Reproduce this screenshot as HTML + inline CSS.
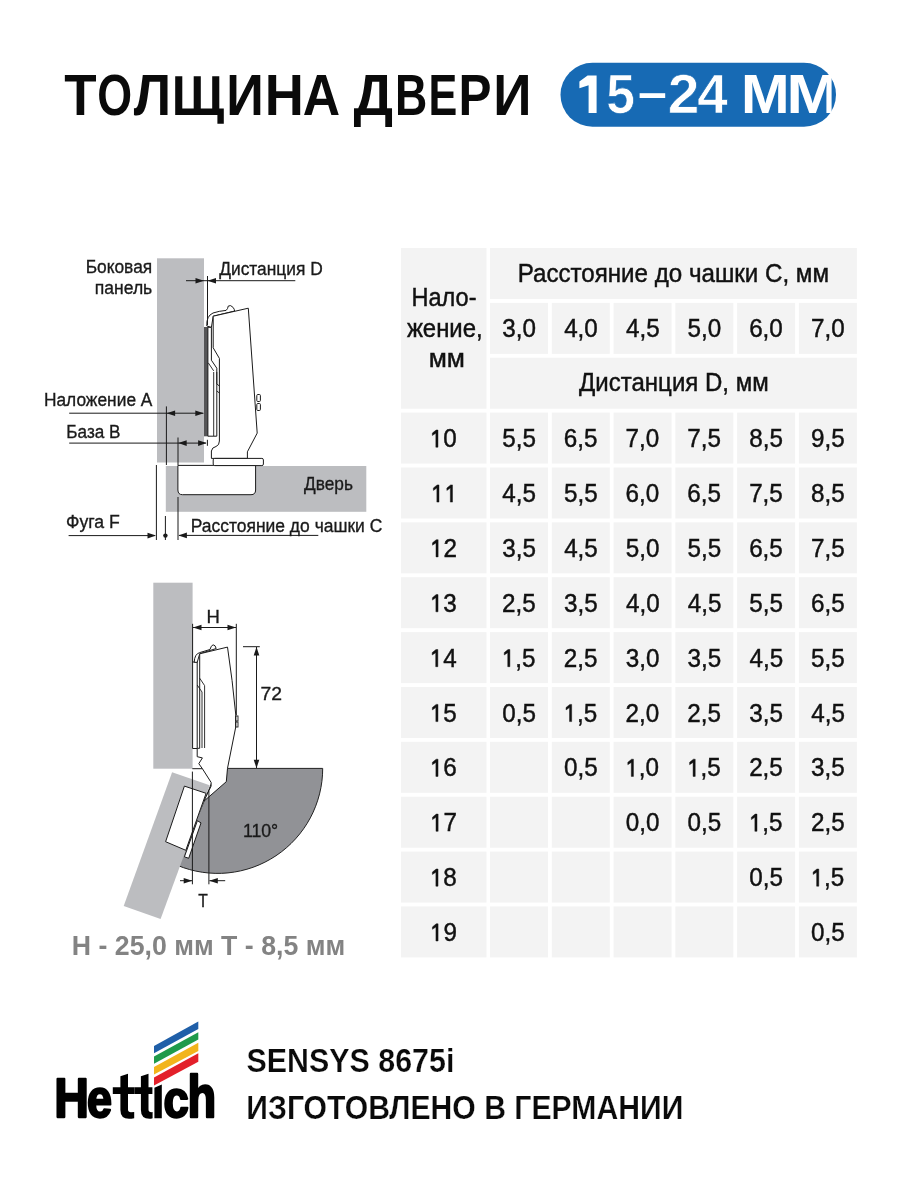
<!DOCTYPE html>
<html><head><meta charset="utf-8">
<style>
html,body{margin:0;padding:0;background:#fff;width:900px;height:1200px;overflow:hidden}
svg{display:block;will-change:transform}
text{font-family:"Liberation Sans",sans-serif}
</style></head><body>
<svg width="900" height="1200" viewBox="0 0 900 1200">
<text transform="translate(64.34 0) scale(0.9369 1)" x="0" y="115" font-size="56.5" font-weight="bold" fill="#0a0a0a">Т</text>
<text transform="translate(97.27 0) scale(0.7939 1)" x="0" y="115" font-size="56.5" font-weight="bold" fill="#0a0a0a">О</text>
<text transform="translate(133.81 0) scale(0.9412 1)" x="0" y="115" font-size="56.5" font-weight="bold" fill="#0a0a0a">Л</text>
<text transform="translate(226.29 0) scale(0.9242 1)" x="0" y="115" font-size="56.5" font-weight="bold" fill="#0a0a0a">И</text>
<text transform="translate(264.66 0) scale(0.9578 1)" x="0" y="115" font-size="56.5" font-weight="bold" fill="#0a0a0a">Н</text>
<text transform="translate(302.72 0) scale(0.9156 1)" x="0" y="115" font-size="56.5" font-weight="bold" fill="#0a0a0a">А</text>
<text transform="translate(353.51 0) scale(0.9819 1)" x="0" y="115" font-size="56.5" font-weight="bold" fill="#0a0a0a">Д</text>
<text transform="translate(395.10 0) scale(0.7907 1)" x="0" y="115" font-size="56.5" font-weight="bold" fill="#0a0a0a">В</text>
<text transform="translate(428.60 0) scale(0.7634 1)" x="0" y="115" font-size="56.5" font-weight="bold" fill="#0a0a0a">Е</text>
<text transform="translate(458.57 0) scale(0.8750 1)" x="0" y="115" font-size="56.5" font-weight="bold" fill="#0a0a0a">Р</text>
<text transform="translate(493.32 0) scale(0.9424 1)" x="0" y="115" font-size="56.5" font-weight="bold" fill="#0a0a0a">И</text>
<path fill="#0a0a0a" d="M175.2,76.2 H182.3 V108.6 H193.7 V76.2 H200.8 V108.6 H212.2 V76.2 H219.3 V108.6 H223.8 V123.7 H217.4 V115 H175.2 Z"/>
<rect x="560.5" y="62.8" width="275.5" height="64" rx="32" fill="#176ab4"/>
<path fill="#fff" d="M588.6,75.6 L596.6,75.6 L596.6,113.1 L588.6,113.1 L588.6,85.2 L579.4,88.2 L579.4,81.6 L587.6,75.6 Z"/>
<rect x="639.6" y="93.2" width="25.6" height="4.8" fill="#fff"/>
<clipPath id="pc"><rect x="560" y="60" width="271.6" height="70"/></clipPath>
<g clip-path="url(#pc)"><text transform="translate(606.36 0) scale(0.9380 1)" x="0" y="113.4" font-size="55" font-weight="bold" fill="#ffffff" stroke="#176ab4" stroke-width="0.7">5</text><text transform="translate(667.69 0) scale(1.0340 1)" x="0" y="113.4" font-size="55" font-weight="bold" fill="#ffffff" stroke="#176ab4" stroke-width="0.7">2</text><text transform="translate(697.16 0) scale(0.9932 1)" x="0" y="113.4" font-size="55" font-weight="bold" fill="#ffffff" stroke="#176ab4" stroke-width="0.7">4</text><text transform="translate(741.05 0) scale(1.0682 1)" x="0" y="113.2" font-size="54.6" font-weight="bold" fill="#ffffff">M</text><text transform="translate(786.56 0) scale(1.1470 1)" x="0" y="113.2" font-size="54.6" font-weight="bold" fill="#ffffff">M</text></g>
<g fill="#f3f3f3">
<rect x="401" y="248" width="85.5" height="160.74"/>
<rect x="490" y="248" width="366.90" height="51"/>
<rect x="490.00" y="302.87" width="58" height="51"/>
<rect x="551.78" y="302.87" width="58" height="51"/>
<rect x="613.56" y="302.87" width="58" height="51"/>
<rect x="675.34" y="302.87" width="58" height="51"/>
<rect x="737.12" y="302.87" width="58" height="51"/>
<rect x="798.90" y="302.87" width="58" height="51"/>
<rect x="490" y="357.74" width="366.90" height="51"/>
<rect x="401" y="412.61" width="85.5" height="51"/>
<rect x="490.00" y="412.61" width="58" height="51"/>
<rect x="551.78" y="412.61" width="58" height="51"/>
<rect x="613.56" y="412.61" width="58" height="51"/>
<rect x="675.34" y="412.61" width="58" height="51"/>
<rect x="737.12" y="412.61" width="58" height="51"/>
<rect x="798.90" y="412.61" width="58" height="51"/>
<rect x="401" y="467.48" width="85.5" height="51"/>
<rect x="490.00" y="467.48" width="58" height="51"/>
<rect x="551.78" y="467.48" width="58" height="51"/>
<rect x="613.56" y="467.48" width="58" height="51"/>
<rect x="675.34" y="467.48" width="58" height="51"/>
<rect x="737.12" y="467.48" width="58" height="51"/>
<rect x="798.90" y="467.48" width="58" height="51"/>
<rect x="401" y="522.35" width="85.5" height="51"/>
<rect x="490.00" y="522.35" width="58" height="51"/>
<rect x="551.78" y="522.35" width="58" height="51"/>
<rect x="613.56" y="522.35" width="58" height="51"/>
<rect x="675.34" y="522.35" width="58" height="51"/>
<rect x="737.12" y="522.35" width="58" height="51"/>
<rect x="798.90" y="522.35" width="58" height="51"/>
<rect x="401" y="577.22" width="85.5" height="51"/>
<rect x="490.00" y="577.22" width="58" height="51"/>
<rect x="551.78" y="577.22" width="58" height="51"/>
<rect x="613.56" y="577.22" width="58" height="51"/>
<rect x="675.34" y="577.22" width="58" height="51"/>
<rect x="737.12" y="577.22" width="58" height="51"/>
<rect x="798.90" y="577.22" width="58" height="51"/>
<rect x="401" y="632.09" width="85.5" height="51"/>
<rect x="490.00" y="632.09" width="58" height="51"/>
<rect x="551.78" y="632.09" width="58" height="51"/>
<rect x="613.56" y="632.09" width="58" height="51"/>
<rect x="675.34" y="632.09" width="58" height="51"/>
<rect x="737.12" y="632.09" width="58" height="51"/>
<rect x="798.90" y="632.09" width="58" height="51"/>
<rect x="401" y="686.96" width="85.5" height="51"/>
<rect x="490.00" y="686.96" width="58" height="51"/>
<rect x="551.78" y="686.96" width="58" height="51"/>
<rect x="613.56" y="686.96" width="58" height="51"/>
<rect x="675.34" y="686.96" width="58" height="51"/>
<rect x="737.12" y="686.96" width="58" height="51"/>
<rect x="798.90" y="686.96" width="58" height="51"/>
<rect x="401" y="741.83" width="85.5" height="51"/>
<rect x="490.00" y="741.83" width="58" height="51"/>
<rect x="551.78" y="741.83" width="58" height="51"/>
<rect x="613.56" y="741.83" width="58" height="51"/>
<rect x="675.34" y="741.83" width="58" height="51"/>
<rect x="737.12" y="741.83" width="58" height="51"/>
<rect x="798.90" y="741.83" width="58" height="51"/>
<rect x="401" y="796.70" width="85.5" height="51"/>
<rect x="490.00" y="796.70" width="58" height="51"/>
<rect x="551.78" y="796.70" width="58" height="51"/>
<rect x="613.56" y="796.70" width="58" height="51"/>
<rect x="675.34" y="796.70" width="58" height="51"/>
<rect x="737.12" y="796.70" width="58" height="51"/>
<rect x="798.90" y="796.70" width="58" height="51"/>
<rect x="401" y="851.57" width="85.5" height="51"/>
<rect x="490.00" y="851.57" width="58" height="51"/>
<rect x="551.78" y="851.57" width="58" height="51"/>
<rect x="613.56" y="851.57" width="58" height="51"/>
<rect x="675.34" y="851.57" width="58" height="51"/>
<rect x="737.12" y="851.57" width="58" height="51"/>
<rect x="798.90" y="851.57" width="58" height="51"/>
<rect x="401" y="906.44" width="85.5" height="51"/>
<rect x="490.00" y="906.44" width="58" height="51"/>
<rect x="551.78" y="906.44" width="58" height="51"/>
<rect x="613.56" y="906.44" width="58" height="51"/>
<rect x="675.34" y="906.44" width="58" height="51"/>
<rect x="737.12" y="906.44" width="58" height="51"/>
<rect x="798.90" y="906.44" width="58" height="51"/>
</g>
<g>
<text transform="translate(429.83 0) scale(0.9700 1)" x="0" y="447.2" font-size="25" fill="#111" stroke="#111" stroke-width="0.45"> 0</text><path transform="translate(429.83 447.2) scale(0.9700 1.0000)" fill="#111" stroke="#111" stroke-width="0.45" d="M6.2,0 V-14 L2.6,-11.7 V-14.1 L6.5,-17.2 H8.4 V0 Z"/>
<text transform="translate(502.17 0) scale(0.9700 1)" x="0" y="447.2" font-size="25" fill="#111" stroke="#111" stroke-width="0.45">5,5</text>
<text transform="translate(563.80 0) scale(0.9700 1)" x="0" y="447.2" font-size="25" fill="#111" stroke="#111" stroke-width="0.45">6,5</text>
<text transform="translate(625.58 0) scale(0.9700 1)" x="0" y="447.2" font-size="25" fill="#111" stroke="#111" stroke-width="0.45">7,0</text>
<text transform="translate(687.37 0) scale(0.9700 1)" x="0" y="447.2" font-size="25" fill="#111" stroke="#111" stroke-width="0.45">7,5</text>
<text transform="translate(749.24 0) scale(0.9700 1)" x="0" y="447.2" font-size="25" fill="#111" stroke="#111" stroke-width="0.45">8,5</text>
<text transform="translate(810.97 0) scale(0.9700 1)" x="0" y="447.2" font-size="25" fill="#111" stroke="#111" stroke-width="0.45">9,5</text>
<text transform="translate(430.85 0) scale(0.9700 1)" x="0" y="502.1" font-size="25" fill="#111" stroke="#111" stroke-width="0.45">  </text><path transform="translate(430.85 502.1) scale(0.9700 1.0000)" fill="#111" stroke="#111" stroke-width="0.45" d="M6.2,0 V-14 L2.6,-11.7 V-14.1 L6.5,-17.2 H8.4 V0 Z"/><path transform="translate(444.34 502.1) scale(0.9700 1.0000)" fill="#111" stroke="#111" stroke-width="0.45" d="M6.2,0 V-14 L2.6,-11.7 V-14.1 L6.5,-17.2 H8.4 V0 Z"/>
<text transform="translate(502.36 0) scale(0.9700 1)" x="0" y="502.1" font-size="25" fill="#111" stroke="#111" stroke-width="0.45">4,5</text>
<text transform="translate(563.95 0) scale(0.9700 1)" x="0" y="502.1" font-size="25" fill="#111" stroke="#111" stroke-width="0.45">5,5</text>
<text transform="translate(625.58 0) scale(0.9700 1)" x="0" y="502.1" font-size="25" fill="#111" stroke="#111" stroke-width="0.45">6,0</text>
<text transform="translate(687.37 0) scale(0.9700 1)" x="0" y="502.1" font-size="25" fill="#111" stroke="#111" stroke-width="0.45">6,5</text>
<text transform="translate(749.14 0) scale(0.9700 1)" x="0" y="502.1" font-size="25" fill="#111" stroke="#111" stroke-width="0.45">7,5</text>
<text transform="translate(811.02 0) scale(0.9700 1)" x="0" y="502.1" font-size="25" fill="#111" stroke="#111" stroke-width="0.45">8,5</text>
<text transform="translate(429.98 0) scale(0.9700 1)" x="0" y="556.9" font-size="25" fill="#111" stroke="#111" stroke-width="0.45"> 2</text><path transform="translate(429.98 556.9) scale(0.9700 1.0000)" fill="#111" stroke="#111" stroke-width="0.45" d="M6.2,0 V-14 L2.6,-11.7 V-14.1 L6.5,-17.2 H8.4 V0 Z"/>
<text transform="translate(502.17 0) scale(0.9700 1)" x="0" y="556.9" font-size="25" fill="#111" stroke="#111" stroke-width="0.45">3,5</text>
<text transform="translate(564.14 0) scale(0.9700 1)" x="0" y="556.9" font-size="25" fill="#111" stroke="#111" stroke-width="0.45">4,5</text>
<text transform="translate(625.73 0) scale(0.9700 1)" x="0" y="556.9" font-size="25" fill="#111" stroke="#111" stroke-width="0.45">5,0</text>
<text transform="translate(687.51 0) scale(0.9700 1)" x="0" y="556.9" font-size="25" fill="#111" stroke="#111" stroke-width="0.45">5,5</text>
<text transform="translate(749.14 0) scale(0.9700 1)" x="0" y="556.9" font-size="25" fill="#111" stroke="#111" stroke-width="0.45">6,5</text>
<text transform="translate(810.92 0) scale(0.9700 1)" x="0" y="556.9" font-size="25" fill="#111" stroke="#111" stroke-width="0.45">7,5</text>
<text transform="translate(429.88 0) scale(0.9700 1)" x="0" y="611.8" font-size="25" fill="#111" stroke="#111" stroke-width="0.45"> 3</text><path transform="translate(429.88 611.8) scale(0.9700 1.0000)" fill="#111" stroke="#111" stroke-width="0.45" d="M6.2,0 V-14 L2.6,-11.7 V-14.1 L6.5,-17.2 H8.4 V0 Z"/>
<text transform="translate(502.02 0) scale(0.9700 1)" x="0" y="611.8" font-size="25" fill="#111" stroke="#111" stroke-width="0.45">2,5</text>
<text transform="translate(563.95 0) scale(0.9700 1)" x="0" y="611.8" font-size="25" fill="#111" stroke="#111" stroke-width="0.45">3,5</text>
<text transform="translate(625.92 0) scale(0.9700 1)" x="0" y="611.8" font-size="25" fill="#111" stroke="#111" stroke-width="0.45">4,0</text>
<text transform="translate(687.70 0) scale(0.9700 1)" x="0" y="611.8" font-size="25" fill="#111" stroke="#111" stroke-width="0.45">4,5</text>
<text transform="translate(749.29 0) scale(0.9700 1)" x="0" y="611.8" font-size="25" fill="#111" stroke="#111" stroke-width="0.45">5,5</text>
<text transform="translate(810.92 0) scale(0.9700 1)" x="0" y="611.8" font-size="25" fill="#111" stroke="#111" stroke-width="0.45">6,5</text>
<text transform="translate(429.69 0) scale(0.9700 1)" x="0" y="666.7" font-size="25" fill="#111" stroke="#111" stroke-width="0.45"> 4</text><path transform="translate(429.69 666.7) scale(0.9700 1.0000)" fill="#111" stroke="#111" stroke-width="0.45" d="M6.2,0 V-14 L2.6,-11.7 V-14.1 L6.5,-17.2 H8.4 V0 Z"/>
<text transform="translate(501.73 0) scale(0.9700 1)" x="0" y="666.7" font-size="25" fill="#111" stroke="#111" stroke-width="0.45"> ,5</text><path transform="translate(501.73 666.7) scale(0.9700 1.0000)" fill="#111" stroke="#111" stroke-width="0.45" d="M6.2,0 V-14 L2.6,-11.7 V-14.1 L6.5,-17.2 H8.4 V0 Z"/>
<text transform="translate(563.80 0) scale(0.9700 1)" x="0" y="666.7" font-size="25" fill="#111" stroke="#111" stroke-width="0.45">2,5</text>
<text transform="translate(625.73 0) scale(0.9700 1)" x="0" y="666.7" font-size="25" fill="#111" stroke="#111" stroke-width="0.45">3,0</text>
<text transform="translate(687.51 0) scale(0.9700 1)" x="0" y="666.7" font-size="25" fill="#111" stroke="#111" stroke-width="0.45">3,5</text>
<text transform="translate(749.48 0) scale(0.9700 1)" x="0" y="666.7" font-size="25" fill="#111" stroke="#111" stroke-width="0.45">4,5</text>
<text transform="translate(811.07 0) scale(0.9700 1)" x="0" y="666.7" font-size="25" fill="#111" stroke="#111" stroke-width="0.45">5,5</text>
<text transform="translate(429.83 0) scale(0.9700 1)" x="0" y="721.6" font-size="25" fill="#111" stroke="#111" stroke-width="0.45"> 5</text><path transform="translate(429.83 721.6) scale(0.9700 1.0000)" fill="#111" stroke="#111" stroke-width="0.45" d="M6.2,0 V-14 L2.6,-11.7 V-14.1 L6.5,-17.2 H8.4 V0 Z"/>
<text transform="translate(502.17 0) scale(0.9700 1)" x="0" y="721.6" font-size="25" fill="#111" stroke="#111" stroke-width="0.45">0,5</text>
<text transform="translate(563.51 0) scale(0.9700 1)" x="0" y="721.6" font-size="25" fill="#111" stroke="#111" stroke-width="0.45"> ,5</text><path transform="translate(563.51 721.6) scale(0.9700 1.0000)" fill="#111" stroke="#111" stroke-width="0.45" d="M6.2,0 V-14 L2.6,-11.7 V-14.1 L6.5,-17.2 H8.4 V0 Z"/>
<text transform="translate(625.58 0) scale(0.9700 1)" x="0" y="721.6" font-size="25" fill="#111" stroke="#111" stroke-width="0.45">2,0</text>
<text transform="translate(687.37 0) scale(0.9700 1)" x="0" y="721.6" font-size="25" fill="#111" stroke="#111" stroke-width="0.45">2,5</text>
<text transform="translate(749.29 0) scale(0.9700 1)" x="0" y="721.6" font-size="25" fill="#111" stroke="#111" stroke-width="0.45">3,5</text>
<text transform="translate(811.26 0) scale(0.9700 1)" x="0" y="721.6" font-size="25" fill="#111" stroke="#111" stroke-width="0.45">4,5</text>
<text transform="translate(429.88 0) scale(0.9700 1)" x="0" y="776.4" font-size="25" fill="#111" stroke="#111" stroke-width="0.45"> 6</text><path transform="translate(429.88 776.4) scale(0.9700 1.0000)" fill="#111" stroke="#111" stroke-width="0.45" d="M6.2,0 V-14 L2.6,-11.7 V-14.1 L6.5,-17.2 H8.4 V0 Z"/>
<text transform="translate(563.95 0) scale(0.9700 1)" x="0" y="776.4" font-size="25" fill="#111" stroke="#111" stroke-width="0.45">0,5</text>
<text transform="translate(625.29 0) scale(0.9700 1)" x="0" y="776.4" font-size="25" fill="#111" stroke="#111" stroke-width="0.45"> ,0</text><path transform="translate(625.29 776.4) scale(0.9700 1.0000)" fill="#111" stroke="#111" stroke-width="0.45" d="M6.2,0 V-14 L2.6,-11.7 V-14.1 L6.5,-17.2 H8.4 V0 Z"/>
<text transform="translate(687.07 0) scale(0.9700 1)" x="0" y="776.4" font-size="25" fill="#111" stroke="#111" stroke-width="0.45"> ,5</text><path transform="translate(687.07 776.4) scale(0.9700 1.0000)" fill="#111" stroke="#111" stroke-width="0.45" d="M6.2,0 V-14 L2.6,-11.7 V-14.1 L6.5,-17.2 H8.4 V0 Z"/>
<text transform="translate(749.14 0) scale(0.9700 1)" x="0" y="776.4" font-size="25" fill="#111" stroke="#111" stroke-width="0.45">2,5</text>
<text transform="translate(811.07 0) scale(0.9700 1)" x="0" y="776.4" font-size="25" fill="#111" stroke="#111" stroke-width="0.45">3,5</text>
<text transform="translate(429.98 0) scale(0.9700 1)" x="0" y="831.3" font-size="25" fill="#111" stroke="#111" stroke-width="0.45"> 7</text><path transform="translate(429.98 831.3) scale(0.9700 1.0000)" fill="#111" stroke="#111" stroke-width="0.45" d="M6.2,0 V-14 L2.6,-11.7 V-14.1 L6.5,-17.2 H8.4 V0 Z"/>
<text transform="translate(625.73 0) scale(0.9700 1)" x="0" y="831.3" font-size="25" fill="#111" stroke="#111" stroke-width="0.45">0,0</text>
<text transform="translate(687.51 0) scale(0.9700 1)" x="0" y="831.3" font-size="25" fill="#111" stroke="#111" stroke-width="0.45">0,5</text>
<text transform="translate(748.85 0) scale(0.9700 1)" x="0" y="831.3" font-size="25" fill="#111" stroke="#111" stroke-width="0.45"> ,5</text><path transform="translate(748.85 831.3) scale(0.9700 1.0000)" fill="#111" stroke="#111" stroke-width="0.45" d="M6.2,0 V-14 L2.6,-11.7 V-14.1 L6.5,-17.2 H8.4 V0 Z"/>
<text transform="translate(810.92 0) scale(0.9700 1)" x="0" y="831.3" font-size="25" fill="#111" stroke="#111" stroke-width="0.45">2,5</text>
<text transform="translate(429.88 0) scale(0.9700 1)" x="0" y="886.2" font-size="25" fill="#111" stroke="#111" stroke-width="0.45"> 8</text><path transform="translate(429.88 886.2) scale(0.9700 1.0000)" fill="#111" stroke="#111" stroke-width="0.45" d="M6.2,0 V-14 L2.6,-11.7 V-14.1 L6.5,-17.2 H8.4 V0 Z"/>
<text transform="translate(749.29 0) scale(0.9700 1)" x="0" y="886.2" font-size="25" fill="#111" stroke="#111" stroke-width="0.45">0,5</text>
<text transform="translate(810.63 0) scale(0.9700 1)" x="0" y="886.2" font-size="25" fill="#111" stroke="#111" stroke-width="0.45"> ,5</text><path transform="translate(810.63 886.2) scale(0.9700 1.0000)" fill="#111" stroke="#111" stroke-width="0.45" d="M6.2,0 V-14 L2.6,-11.7 V-14.1 L6.5,-17.2 H8.4 V0 Z"/>
<text transform="translate(429.93 0) scale(0.9700 1)" x="0" y="941.0" font-size="25" fill="#111" stroke="#111" stroke-width="0.45"> 9</text><path transform="translate(429.93 941.0) scale(0.9700 1.0000)" fill="#111" stroke="#111" stroke-width="0.45" d="M6.2,0 V-14 L2.6,-11.7 V-14.1 L6.5,-17.2 H8.4 V0 Z"/>
<text transform="translate(811.07 0) scale(0.9700 1)" x="0" y="941.0" font-size="25" fill="#111" stroke="#111" stroke-width="0.45">0,5</text>
<text transform="translate(502.17 0) scale(0.9700 1)" x="0" y="337" font-size="25" fill="#111" stroke="#111" stroke-width="0.45">3,0</text>
<text transform="translate(564.14 0) scale(0.9700 1)" x="0" y="337" font-size="25" fill="#111" stroke="#111" stroke-width="0.45">4,0</text>
<text transform="translate(625.92 0) scale(0.9700 1)" x="0" y="337" font-size="25" fill="#111" stroke="#111" stroke-width="0.45">4,5</text>
<text transform="translate(687.51 0) scale(0.9700 1)" x="0" y="337" font-size="25" fill="#111" stroke="#111" stroke-width="0.45">5,0</text>
<text transform="translate(749.14 0) scale(0.9700 1)" x="0" y="337" font-size="25" fill="#111" stroke="#111" stroke-width="0.45">6,0</text>
<text transform="translate(810.92 0) scale(0.9700 1)" x="0" y="337" font-size="25" fill="#111" stroke="#111" stroke-width="0.45">7,0</text>
<text transform="translate(517.67 0) scale(0.9658 1)" x="0" y="282" font-size="25" fill="#111" stroke="#111" stroke-width="0.45">Расстояние до чашки С, мм</text>
<text transform="translate(579.11 0) scale(0.9611 1)" x="0" y="391.3" font-size="25" fill="#111" stroke="#111" stroke-width="0.45">Дистанция D, мм</text>
<text transform="translate(411.52 0) scale(0.9422 1)" x="0" y="305.8" font-size="25" fill="#111" stroke="#111" stroke-width="0.45">Нало-</text>
<text transform="translate(406.90 0) scale(0.9558 1)" x="0" y="336.6" font-size="25" fill="#111" stroke="#111" stroke-width="0.45">жение,</text>
<text transform="translate(428.71 0) scale(1.0548 1)" x="0" y="367.5" font-size="25" fill="#111" stroke="#111" stroke-width="0.45">мм</text>
</g>
<rect x="157" y="258.3" width="47" height="204.2" fill="#bcbdc0"/>
<rect x="165.8" y="466" width="200.5" height="45.8" fill="#bcbdc0"/>
<rect x="204" y="327" width="4" height="109.3" fill="#555557"/>
<g fill="#fff" stroke="#1a1a1a" stroke-width="1" stroke-linejoin="round">
<path d="M207.9,327.3 L211.4,327.3 L211.4,360.2 L216.8,368.2 L216.8,436.2 L207.9,436.2 Z"/>
<path d="M206.8,326 Q206.2,316 213,313 Q219,311 226.1,310.4 Q227.8,309 228.3,306 Q230.6,304.5 233.2,307.5 Q234.6,309.5 234.6,311 L213.2,316.2 L211.4,327.3 Z"/>
<path d="M213.2,316.2 L248.3,308.2 L257.2,433.1 L247.4,451.8 L247.4,458.4 L211.4,458.4 L211.4,451 Q212,447.3 216,446.5 Q219.4,445.3 219.4,441 L219.4,358.4 L213.2,347.8 Z"/>
<path d="M177.9,465.4 L255.6,465.4 L255.6,490 Q255.6,494.7 251,494.7 L182.5,494.7 Q177.9,494.7 177.9,490 Z"/>
<rect x="213.2" y="458.4" width="50.2" height="7.2" rx="1.5"/>
<rect x="256.8" y="394.5" width="3.6" height="7" rx="1"/>
<rect x="256.8" y="403.5" width="3.6" height="7" rx="1"/>
</g>
<g stroke="#1a1a1a" stroke-width="0.9" fill="none">
<path d="M213.7,372 L213.7,436"/>
<path d="M216.8,372 L216.8,384 L219.4,386 M216.8,391 L219.4,393"/>
<path d="M208.3,362.9 L213.7,370.9"/>
</g>
<g stroke="#1a1a1a" stroke-width="1">
<line x1="186" y1="280.7" x2="295.3" y2="280.7" stroke="#1a1a1a" stroke-width="1"/>
<line x1="207.5" y1="276" x2="207.5" y2="325" stroke="#1a1a1a" stroke-width="1"/>
<line x1="69.2" y1="413.2" x2="203.3" y2="413.2" stroke="#1a1a1a" stroke-width="1"/>
<line x1="166.4" y1="406.4" x2="166.4" y2="465" stroke="#1a1a1a" stroke-width="1"/>
<line x1="69.2" y1="443.1" x2="206" y2="443.1" stroke="#1a1a1a" stroke-width="1"/>
<line x1="207.4" y1="439.8" x2="207.4" y2="445.8" stroke="#1a1a1a" stroke-width="1"/>
<line x1="178" y1="437.5" x2="178" y2="465" stroke="#1a1a1a" stroke-width="1"/>
<line x1="178" y1="497" x2="178" y2="540" stroke="#1a1a1a" stroke-width="1"/>
<line x1="68.6" y1="535.6" x2="155" y2="535.6" stroke="#1a1a1a" stroke-width="1"/>
<line x1="156.4" y1="465" x2="156.4" y2="540" stroke="#1a1a1a" stroke-width="1"/>
<line x1="165.4" y1="516" x2="165.4" y2="540" stroke="#1a1a1a" stroke-width="1"/>
<line x1="179" y1="535.4" x2="318.3" y2="535.4" stroke="#1a1a1a" stroke-width="1"/>
</g>
<polygon points="204.0,280.7 195.5,283.5 195.5,277.9" fill="#1a1a1a"/>
<polygon points="207.5,280.7 216.0,277.9 216.0,283.5" fill="#1a1a1a"/>
<polygon points="166.6,413.2 175.1,410.4 175.1,416.0" fill="#1a1a1a"/>
<polygon points="203.8,413.2 195.3,416.0 195.3,410.4" fill="#1a1a1a"/>
<polygon points="178.2,443.1 186.7,440.3 186.7,445.9" fill="#1a1a1a"/>
<polygon points="206.6,443.1 198.1,445.9 198.1,440.3" fill="#1a1a1a"/>
<polygon points="156.0,535.6 147.5,538.4 147.5,532.8" fill="#1a1a1a"/>
<polygon points="178.4,535.4 186.9,532.6 186.9,538.2" fill="#1a1a1a"/>
<circle cx="165.4" cy="535.6" r="2.2" fill="#1a1a1a"/>
<text transform="translate(85.64 0) scale(0.9143 1)" x="0" y="273" font-size="19" fill="#1a1a1a" stroke="#1a1a1a" stroke-width="0.35">Боковая</text>
<text transform="translate(94.80 0) scale(0.9236 1)" x="0" y="293.6" font-size="19" fill="#1a1a1a" stroke="#1a1a1a" stroke-width="0.35">панель</text>
<text transform="translate(219.21 0) scale(0.9145 1)" x="0" y="274.7" font-size="19" fill="#1a1a1a" stroke="#1a1a1a" stroke-width="0.35">Дистанция D</text>
<text transform="translate(43.94 0) scale(0.9130 1)" x="0" y="406.4" font-size="19" fill="#1a1a1a" stroke="#1a1a1a" stroke-width="0.35">Наложение A</text>
<text transform="translate(66.36 0) scale(0.9026 1)" x="0" y="438.5" font-size="19" fill="#1a1a1a" stroke="#1a1a1a" stroke-width="0.35">База B</text>
<text transform="translate(304.11 0) scale(0.9093 1)" x="0" y="489.6" font-size="19" fill="#1a1a1a" stroke="#1a1a1a" stroke-width="0.35">Дверь</text>
<text transform="translate(65.98 0) scale(0.9304 1)" x="0" y="527.6" font-size="19" fill="#1a1a1a" stroke="#1a1a1a" stroke-width="0.35">Фуга F</text>
<text transform="translate(190.63 0) scale(0.9199 1)" x="0" y="532.1" font-size="19" fill="#1a1a1a" stroke="#1a1a1a" stroke-width="0.35">Расстояние до чашки C</text>
<rect x="153.3" y="582.7" width="39.3" height="186" fill="#bcbdc0"/>
<path d="M217.7 768.4 L322.7 768.4 A105 105 0 0 1 177.5 865.4 Z" fill="#919296" stroke="#222" stroke-width="1"/>
<polygon points="172.1,772.3 209.7,785.3 160.6,919 123.7,906" fill="#bcbdc0"/>
<g fill="#fff" stroke="#1a1a1a" stroke-width="1" stroke-linejoin="round">
<polygon points="184.4,786.1 206.1,793.3 185.8,850.3 165.6,841.7"/>
<polygon points="197.4,820.7 201,822.9 188.7,858.3 184.4,856.8"/>
<rect x="192.6" y="662" width="4.6" height="86.5"/>
<path d="M194.2,662.3 Q194.5,654 199.7,652.6 L210,649.5 Q211,645.5 213.1,644.8 Q215.5,645 216.2,648.5 L199.7,653.8 L197.2,662.3 Z"/>
<path d="M199.7,653.8 L227.5,647.1 Q232.5,680 235.8,715 L235.8,726.7 L227.5,768.3 L226.3,781.7 L203.9,801.2 L211.1,786.1 L211.1,782.4 L202.4,768.7 L198.8,763.7 L202.4,757.9 L197.2,756.7 L197.2,748.3 L199.7,748.3 Z"/>
</g>
<g stroke="#1a1a1a" stroke-width="0.9" fill="none">
<path d="M199.7,678.2 L204.6,685.6 L204.6,748"/>
<path d="M197.2,685 L202,692 L202,748"/>
<rect x="235.6" y="716" width="2.4" height="5"/><rect x="235.6" y="722" width="2.4" height="5"/>
</g>
<g stroke="#1a1a1a" stroke-width="1">
<line x1="193" y1="627.5" x2="236" y2="627.5" stroke="#1a1a1a" stroke-width="1"/>
<line x1="192.6" y1="623.8" x2="192.6" y2="662" stroke="#1a1a1a" stroke-width="1"/>
<line x1="236.3" y1="623.8" x2="236.3" y2="715" stroke="#1a1a1a" stroke-width="1"/>
<line x1="243" y1="646.7" x2="259.8" y2="646.7" stroke="#1a1a1a" stroke-width="1"/>
<line x1="256.5" y1="647" x2="256.5" y2="768" stroke="#1a1a1a" stroke-width="1"/>
<line x1="192.3" y1="768.7" x2="202.4" y2="768.7" stroke="#1a1a1a" stroke-width="1"/>
<line x1="192.4" y1="771.6" x2="192.4" y2="884.3" stroke="#1a1a1a" stroke-width="1"/>
<line x1="208.9" y1="791" x2="208.9" y2="884.3" stroke="#1a1a1a" stroke-width="1"/>
<line x1="180" y1="880.7" x2="192" y2="880.7" stroke="#1a1a1a" stroke-width="1"/>
<line x1="209.5" y1="880.7" x2="225.2" y2="880.7" stroke="#1a1a1a" stroke-width="1"/>
</g>
<polygon points="193.0,627.5 201.5,624.7 201.5,630.3" fill="#1a1a1a"/>
<polygon points="236.0,627.5 227.5,630.3 227.5,624.7" fill="#1a1a1a"/>
<polygon points="256.5,647.0 259.3,655.5 253.7,655.5" fill="#1a1a1a"/>
<polygon points="256.5,768.2 253.7,759.7 259.3,759.7" fill="#1a1a1a"/>
<polygon points="192.2,880.7 183.7,883.5 183.7,877.9" fill="#1a1a1a"/>
<polygon points="209.3,880.7 217.8,877.9 217.8,883.5" fill="#1a1a1a"/>
<text transform="translate(206.45 0) scale(0.9717 1)" x="0" y="623.5" font-size="19" fill="#1a1a1a" stroke="#1a1a1a" stroke-width="0.35">H</text>
<text transform="translate(260.38 0) scale(1.0208 1)" x="0" y="700.2" font-size="19" fill="#1a1a1a" stroke="#1a1a1a" stroke-width="0.35">72</text>
<text transform="translate(242.89 0) scale(0.9322 1)" x="0" y="836.9" font-size="19" fill="#1a1a1a" stroke="#1a1a1a" stroke-width="0.35">110°</text>
<text transform="translate(198.27 0) scale(0.8241 1)" x="0" y="907" font-size="19" fill="#1a1a1a" stroke="#1a1a1a" stroke-width="0.35">T</text>
<text transform="translate(71.85 0) scale(0.9708 1)" x="0" y="954.8" font-size="27.5" font-weight="bold" fill="#838383">H - 25,0 мм T - 8,5 мм</text>
<text transform="translate(246.57 0) scale(0.9267 1)" x="0" y="1072" font-size="32.8" font-weight="bold" fill="#0a0a0a" stroke="#fff" stroke-width="0.25">SENSYS 8675i</text>
<text transform="translate(246.31 0) scale(0.9063 1)" x="0" y="1118.6" font-size="33.3" font-weight="bold" fill="#0a0a0a" stroke="#fff" stroke-width="0.25">ИЗГОТОВЛЕНО В ГЕРМАНИИ</text>
<text transform="translate(54.36 1117.40) scale(0.9246 1.0615)" x="0" y="0" font-size="52" font-weight="bold" fill="#000" stroke="#000" stroke-width="2.16" stroke-linejoin="round">H</text>
<text transform="translate(87.07 1116.90) scale(0.8645 1.0035)" x="0" y="0" font-size="52" font-weight="bold" fill="#000" stroke="#000" stroke-width="2.31" stroke-linejoin="round">e</text>
<text transform="translate(163.45 1116.90) scale(0.8740 1.0035)" x="0" y="0" font-size="52" font-weight="bold" fill="#000" stroke="#000" stroke-width="2.29" stroke-linejoin="round">c</text>
<text transform="translate(187.55 1117.40) scale(0.9036 1.1353)" x="0" y="0" font-size="52" font-weight="bold" fill="#000" stroke="#000" stroke-width="2.21" stroke-linejoin="round">h</text>
<path fill="#000" d="M120.4,1076.2 L128,1073.8 L128,1087.2 L134.6,1087.2 L134.6,1094 L128,1094 L128,1109.5 Q128,1112.2 131,1112.2 L134.2,1112 L134.2,1118.2 Q131.5,1118.8 129,1118.8 Q120.4,1118.8 120.4,1110 L120.4,1094 L112.8,1094 L112.8,1087.2 L120.4,1087.2 Z"/>
<path fill="#000" d="M140.9,1076.2 L148.5,1073.8 L148.5,1087.2 L152.4,1087.2 L152.4,1094 L148.5,1094 L148.5,1109.5 Q148.5,1112.2 151.5,1112.2 L152.6,1112 L152.6,1118.2 Q151,1118.8 149.5,1118.8 Q140.9,1118.8 140.9,1110 L140.9,1094 L134.6,1094 L134.6,1087.2 L140.9,1087.2 Z"/>
<path fill="#000" d="M154.4,1087.8 L161.8,1084.6 L161.8,1118.3 L154.4,1118.3 Z"/>
<polygon points="154,1045.9 198.3,1021.6 198.3,1029 154,1053.3" fill="#1f5fa8"/>
<polygon points="154,1056.4 198.3,1032.2 198.3,1039.6 154,1063.8" fill="#1f9a4a"/>
<polygon points="154,1067 198.3,1042.7 198.3,1051 154,1074.4" fill="#f2b41c"/>
<polygon points="154,1077.6 198.3,1053.3 198.3,1061.7 154,1085.4" fill="#e3202a"/>
</svg>
</body></html>
